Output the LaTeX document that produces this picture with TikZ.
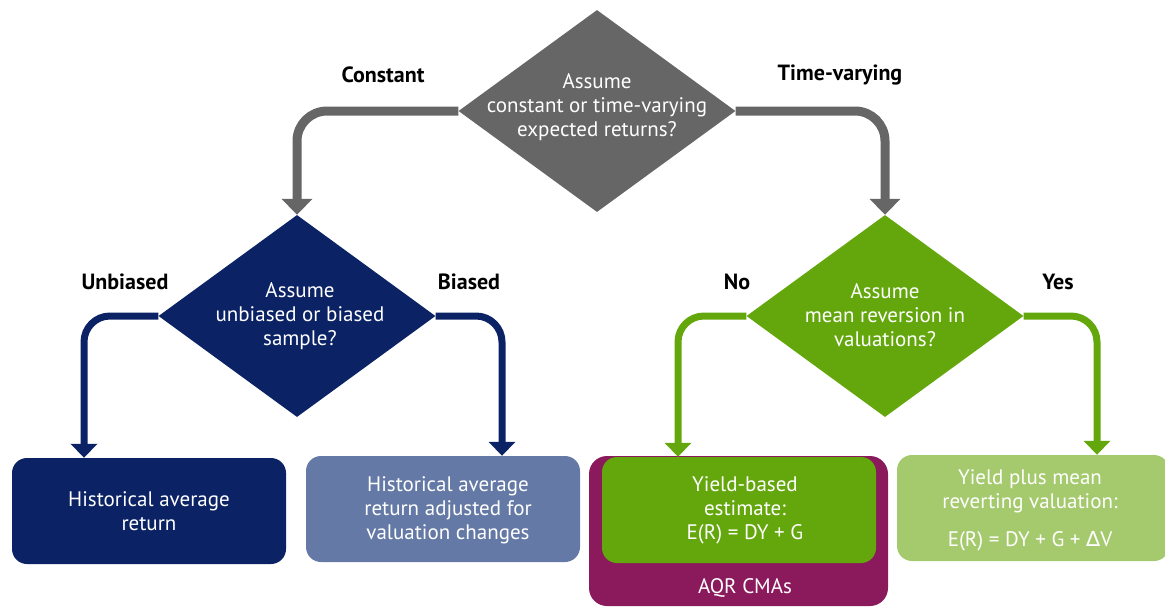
\documentclass[tikz,border=0pt]{standalone}
\usepackage{fontspec}
\setmainfont{PT Sans}
\newfontfamily\symfont{DejaVu Sans}
\usetikzlibrary{arrows.meta, positioning, shapes.geometric}
\definecolor{qgray}{HTML}{666666}
\definecolor{qnavy}{HTML}{0B2265}
\definecolor{qslate}{HTML}{6479A5}
\definecolor{qgreen}{HTML}{63A70C}
\definecolor{qlight}{HTML}{A5CA6E}
\definecolor{qpurple}{HTML}{8B1A5D}
\tikzset{
  decision/.style={diamond, minimum width=277pt, minimum height=202pt, inner sep=0pt},
  dtext/.style={align=center, text=white, font=\fontsize{21}{24}\selectfont},
  result/.style={rounded corners=15pt, minimum width=274pt, minimum height=106pt, inner sep=0pt},
  branch/.style={font=\bfseries\fontsize{22}{24}\selectfont},
  flow/.style={line width=7pt, rounded corners=26pt, -{Triangle[width=26pt,length=14pt]}}
}

\begin{document}
\begin{tikzpicture}[x=1pt, y=-1pt]
  \useasboundingbox (0,0) rectangle (1165,606);
  \clip (0,0) rectangle (1165,606);

  % decisions
  \node[decision, fill=qgray]  (top) at (597,111) {};
  \node[decision, fill=qnavy]  (sample) at (297,316) {};
  \node[decision, fill=qgreen] (mean) at (885,316) {};
  \node[dtext] (top-t) at (597,107) {Assume\\constant or time-varying\\expected returns?};
  \node[dtext] (sample-t) at (300,316) {Assume\\unbiased or biased\\sample?};
  \node[dtext] (mean-t) at (885,315) {Assume\\mean reversion in\\valuations?};

  % outcomes
  \node[result, fill=qnavy] (hist) at (149,511) {};
  \node[result, fill=qslate] (adj) at (443,509) {};
  \node[rounded corners=18pt, minimum width=299pt, minimum height=150pt, fill=qpurple] (cma) at (738.5,531) {};
  \node[result, fill=qgreen] (yield) at (739,510) {};
  \node[result, minimum width=272pt, fill=qlight] (yieldmr) at (1033,508) {};
  \node[dtext] (hist-t) at (hist) {Historical average\\return};
  \node[dtext] (adj-t) at (448,510) {Historical average\\return adjusted for\\valuation changes};
  \node[dtext] (yield-t) at (745,510) {Yield-based\\estimate:\\E(R) = DY + G};
  \node[dtext] (yieldmr-t) at (1030,510) {Yield plus mean\\reverting valuation:\\[14pt]E(R) = DY + G + {\symfont ∆}V};
  \node[dtext] (cma-t) at (745,588) {AQR CMAs};

  % branch labels
  \node[branch] (l-const) at (383,75) {Constant};
  \node[branch] (l-time) at (840,75) {Time-varying};
  \node[branch] (l-unb) at (125,282) {Unbiased};
  \node[branch] (l-bias) at (469,282) {Biased};
  \node[branch] (l-no) at (737,282) {No};
  \node[branch] (l-yes) at (1058,282) {Yes};

  % connectors
  \draw[flow, qgray, line width=9pt, rounded corners=30pt, -{Triangle[width=30pt,length=16pt]}] (top.west) -| (sample.north);
  \draw[flow, qgray, line width=9pt, rounded corners=30pt, -{Triangle[width=30pt,length=16pt]}] (top.east) -| (mean.north);
  \draw[flow, qnavy] (sample.west) -| ([xshift=-65pt]hist.north);
  \draw[flow, qnavy] (sample.east) -| ([xshift=59pt]adj.north);
  \draw[flow, qgreen] (mean.west) -| ([xshift=-61pt]yield.north);
  \draw[flow, qgreen] (mean.east) -| ([xshift=64pt]yieldmr.north);
\end{tikzpicture}
\end{document}
